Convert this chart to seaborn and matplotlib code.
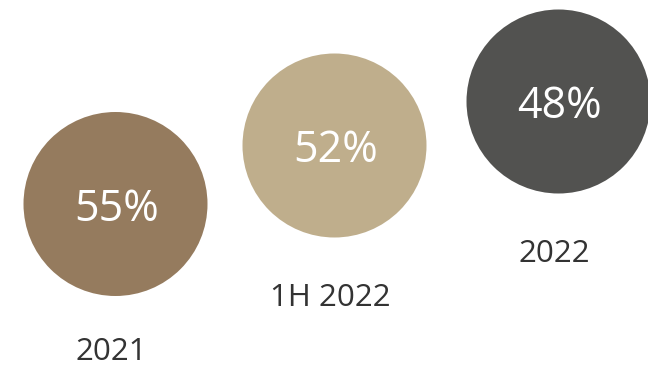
import matplotlib
matplotlib.use("Agg")
import matplotlib.pyplot as plt
import seaborn as sns
import pandas as pd

# Data
categories = ["2021", "1H 2022", "2022"]
values = [55, 52, 48]

# Layout (pixel positions in a 648x365 canvas)
center_x = [115.5, 334.5, 558.5]
center_y = [204, 145.5, 101.5]
label_y = [349, 295, 251]
colors = ["#957B5E", "#BFAE8C", "#525250"]
radius_px = 92

sns.set_theme(style="white")
plt.rcParams["font.family"] = ["Open Sans", "DejaVu Sans"]

df = pd.DataFrame({"cat": categories, "val": values, "x": center_x, "y": center_y})

dpi = 100
fig = plt.figure(figsize=(6.48, 3.65), dpi=dpi)
ax = fig.add_axes([0, 0, 1, 1])
ax.set_xlim(0, 648)
ax.set_ylim(365, 0)
ax.set_axis_off()

diam_pt = 2 * radius_px * 72 / dpi
sns.scatterplot(data=df, x="x", y="y", hue="cat", palette=colors,
                s=diam_pt ** 2, linewidth=0, legend=False, ax=ax, zorder=2)

for cx, cy, ly, cat, v in zip(center_x, center_y, label_y, categories, values):
    ax.text(cx + 1, cy, f"{v}%", ha="center", va="center_baseline",
            color="white", fontsize=31, zorder=3)
    ax.text(cx - 4, ly, cat, ha="center", va="center_baseline",
            color="#333333", fontsize=22.5, zorder=3)

fig.savefig("out.png", dpi=dpi, facecolor="white")
